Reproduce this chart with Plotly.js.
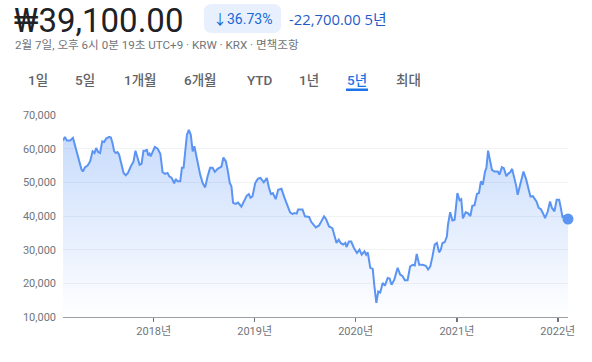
<!DOCTYPE html>
<html><head><meta charset="utf-8">
<script src="https://cdn.plot.ly/plotly-3.0.1.min.js"></script>
<style>html,body{margin:0;padding:0;background:#fff;} #chart{width:592px;height:362px;}</style>
</head><body><div id="chart"></div>
<script>
// ---- data ----
const dates = [
'2017-02-07','2017-02-14','2017-02-21','2017-03-05','2017-03-15','2017-03-20','2017-03-25','2017-04-01','2017-04-07','2017-04-15',
'2017-04-20','2017-04-27','2017-05-07','2017-05-16','2017-05-25','2017-06-01','2017-06-07','2017-06-14','2017-06-21','2017-06-29',
'2017-07-06','2017-07-13','2017-07-24','2017-07-30','2017-08-05','2017-08-11','2017-08-17','2017-08-23','2017-08-29','2017-09-07',
'2017-09-14','2017-09-22','2017-09-30','2017-10-10','2017-10-20','2017-10-27','2017-11-03','2017-11-11','2017-11-18','2017-11-25',
'2017-12-03','2017-12-07','2017-12-12','2017-12-17','2017-12-21','2017-12-27','2018-01-05','2018-01-15','2018-01-25','2018-02-02',
'2018-02-11','2018-02-20','2018-02-26','2018-03-07','2018-03-16','2018-03-22','2018-03-28','2018-04-07','2018-04-13','2018-04-19',
'2018-04-24','2018-05-01','2018-05-08','2018-05-15','2018-05-22','2018-05-28','2018-06-02','2018-06-09','2018-06-18','2018-06-27',
'2018-07-06','2018-07-15','2018-07-24','2018-08-02','2018-08-10','2018-08-20','2018-08-29','2018-09-03','2018-09-10','2018-09-19',
'2018-09-25','2018-10-03','2018-10-09','2018-10-15','2018-10-24','2018-11-02','2018-11-14','2018-11-23','2018-12-03','2018-12-11',
'2018-12-17','2018-12-24','2019-01-03','2019-01-13','2019-01-22','2019-02-03','2019-02-14','2019-02-22','2019-03-01','2019-03-08',
'2019-03-18','2019-03-27','2019-04-08','2019-04-18','2019-04-27','2019-05-09','2019-05-18','2019-05-24','2019-06-02','2019-06-07',
'2019-06-23','2019-07-02','2019-07-17','2019-07-25','2019-08-10','2019-08-22','2019-08-30','2019-09-09','2019-09-16','2019-09-27',
'2019-10-09','2019-10-17','2019-10-24','2019-11-01','2019-11-08','2019-11-17','2019-11-25','2019-11-29','2019-12-08','2019-12-16',
'2019-12-26','2020-01-06','2020-01-15','2020-01-23','2020-02-02','2020-02-08','2020-02-14','2020-02-23','2020-03-03','2020-03-09',
'2020-03-16','2020-03-23','2020-03-30','2020-04-08','2020-04-16','2020-04-26','2020-05-03','2020-05-10','2020-05-20','2020-06-01',
'2020-06-10','2020-06-19','2020-06-27','2020-07-07','2020-07-16','2020-07-25','2020-08-02','2020-08-09','2020-08-18','2020-08-30',
'2020-09-11','2020-09-19','2020-09-27','2020-10-05','2020-10-13','2020-10-21','2020-10-29','2020-11-04','2020-11-10','2020-11-18',
'2020-11-26','2020-11-30','2020-12-08','2020-12-16','2020-12-24','2020-12-28','2021-01-03','2021-01-11','2021-01-17','2021-01-23',
'2021-02-02','2021-02-09','2021-02-19','2021-02-26','2021-03-06','2021-03-15','2021-03-22','2021-03-29','2021-04-05','2021-04-13',
'2021-04-18','2021-04-24','2021-05-02','2021-05-08','2021-05-17','2021-05-29','2021-06-04','2021-06-13','2021-06-20','2021-06-29',
'2021-07-06','2021-07-13','2021-07-20','2021-07-29','2021-08-04','2021-08-09','2021-08-18','2021-08-30','2021-09-09','2021-09-18',
'2021-09-24','2021-10-03','2021-10-10','2021-10-16','2021-10-24','2021-11-01','2021-11-08','2021-11-16','2021-11-26','2021-12-04',
'2021-12-11','2021-12-20','2021-12-28','2022-01-06','2022-01-12','2022-01-18','2022-01-25','2022-02-07'
];
const prices = [
62400,63500,62400,62400,63200,61700,59700,58400,56200,53800,
53200,54400,55000,56200,59200,58700,60200,59000,58700,62200,
62000,63000,63500,63300,61700,59200,58700,59000,58200,55200,
52800,52100,52800,54700,56200,59400,57200,55200,55500,59400,
59400,59800,58000,58500,57700,58700,60500,60000,58500,53000,
52500,52800,51800,51300,49700,51000,50300,50300,54300,54300,
58200,64100,65600,64100,59200,60700,58700,55700,52300,49800,
48500,51800,54300,54300,53100,54000,54600,54700,57400,56200,
53800,49800,48800,43900,43600,44000,42800,44300,46000,46500,
45400,45800,49800,51100,51300,50000,51300,48300,46500,46800,
45000,47800,48100,45600,43900,41100,40600,40900,40700,41900,
41900,39900,39700,38200,36600,37200,38400,39900,39100,36900,
36400,33800,32000,33000,32000,31500,32000,30800,32400,32400,
30500,29000,30000,28500,29500,28500,29200,24600,24300,19100,
14200,17600,17300,20100,19300,21600,21400,19600,21100,24600,
22600,22100,20900,20900,25000,25500,25300,28700,25500,25500,
25200,24100,25000,28000,31500,32000,29200,30000,32000,32200,
33900,37400,41100,38700,38900,41900,46800,44700,45000,39300,
41100,40900,40000,43000,43200,46600,46800,50300,49300,53200,
54300,59400,56200,53700,53200,53200,52300,54500,54200,51800,
52600,53000,54000,51300,48800,46300,49300,53200,50800,47300,
45800,45900,44800,44300,42400,42000,40900,39400,41400,44300,
42400,41400,44800,44800,42400,39700,39900,39100
];
const yearTicks = ['2018-01-01','2019-01-01','2020-01-01','2021-01-01','2022-01-01'];
const yearLabels = ['2018년','2019년','2020년','2021년','2022년'];
const priceLabel = '₩39,100.00';
const changePct = '↓36.73%';
const changeAbs = '-22,700.00';
const periodLabel = '5년';
const subtitle = '2월 7일, 오후 6시 0분 19초 UTC+9 · KRW · KRX · 면책조항';
const tabs = ['1일','5일','1개월','6개월','YTD','1년','5년','최대'];
const selectedTab = '5년';

// ---- layout helpers (pixel -> paper) ----
const W=592,H=362,L=63,R=568,T=115,B=317;
const fx = x => (x-L)/(R-L);
const fy = y => (B-y)/(B-T);
const FONT = 'Roboto, "Noto Sans CJK KR", sans-serif';
const HFONT = '"Open Sans", "Noto Sans CJK KR", sans-serif';
const tabLeft = [28,75,124,184,247,299,347,396];

function roundRect(x0,y0,x1,y1,r){
  const rx = r/(R-L), ry = r/(B-T);
  const X0=fx(x0),X1=fx(x1),Y0=fy(y0),Y1=fy(y1);
  return `M${X0+rx},${Y0} L${X1-rx},${Y0} Q${X1},${Y0} ${X1},${Y0-ry} L${X1},${Y1+ry} Q${X1},${Y1} ${X1-rx},${Y1} L${X0+rx},${Y1} Q${X0},${Y1} ${X0},${Y1+ry} L${X0},${Y0-ry} Q${X0},${Y0} ${X0+rx},${Y0} Z`;
}

const annotations = [
  {text: priceLabel, x: fx(13), y: fy(20), xanchor:'left', yanchor:'middle', font:{size:33, weight:400, color:'#202124', family:FONT}},
  {text: changePct, x: fx(242.5), y: fy(19), xanchor:'center', yanchor:'middle', font:{size:14, color:'#1967d2', family:FONT}},
  {text: changeAbs + ' ' + periodLabel, x: fx(288), y: fy(18.5), xanchor:'left', yanchor:'middle', font:{size:14.8, color:'#1f5bc6', family:HFONT}},
  {text: subtitle, x: fx(14), y: fy(45), xanchor:'left', yanchor:'middle', font:{size:11.6, color:'#70757a', family:FONT}},
];
tabs.forEach((t,i)=>{
  annotations.push({text:t, x: fx(tabLeft[i]-1), y: fy(80), xanchor:'left', yanchor:'middle',
    font:{size:13.5, weight:500, color: t===selectedTab ? '#1a73e8' : '#5f6368', family:FONT}});
});
annotations.forEach(a=>{a.xref='paper';a.yref='paper';a.showarrow=false;a.borderpad=0;});

const shapes = [
  {type:'path', xref:'paper', yref:'paper', path: roundRect(204,4,281,33,8), fillcolor:'#e8f0fe', line:{width:0}, layer:'below'},
  {type:'rect', xref:'paper', yref:'paper', x0: fx(346), x1: fx(368), y0: fy(91), y1: fy(88.5), fillcolor:'#1a73e8', line:{width:0}},
];

const lineColor = '#5b94f3';
const traces = [
  {x: dates, y: prices, type:'scatter', mode:'lines', line:{color:lineColor, width:2},
   fill:'tozeroy',
   fillgradient:{type:'vertical', start:10000, stop:66000,
     colorscale:[[0,'rgba(66,133,244,0.0)'],[1,'rgba(66,133,244,0.30)']]},
   hoverinfo:'skip'},
  {x:[dates[dates.length-1]], y:[prices[prices.length-1]], type:'scatter', mode:'markers',
   marker:{color:lineColor, size:11}, cliponaxis:false, hoverinfo:'skip'}
];

const layout = {
  width:W, height:H, margin:{l:L, r:W-R, t:T, b:H-B},
  paper_bgcolor:'#fff', plot_bgcolor:'#fff', showlegend:false, hovermode:false,
  font:{family:FONT, size:11, color:'#70757a'},
  xaxis:{type:'date', range:['2017-02-07','2022-02-07'], tickvals:yearTicks, ticktext:yearLabels,
    showgrid:false, zeroline:false, showline:true, linecolor:'#9aa0a6', linewidth:1,
    ticks:'outside', ticklen:4, tickwidth:1.5, tickcolor:'#70757a',
    tickfont:{size:11, color:'#70757a', family:FONT}},
  yaxis:{range:[10000,70000], dtick:10000, tick0:10000, tickformat:',d',
    showgrid:true, gridcolor:'#f1f3f4', gridwidth:1, zeroline:false, showline:false, ticks:'',
    ticklabelstandoff:6, tickfont:{size:11, color:'#70757a', family:FONT}},
  annotations, shapes
};
Plotly.newPlot('chart', traces, layout, {displayModeBar:false, staticPlot:true});
</script></body></html>
